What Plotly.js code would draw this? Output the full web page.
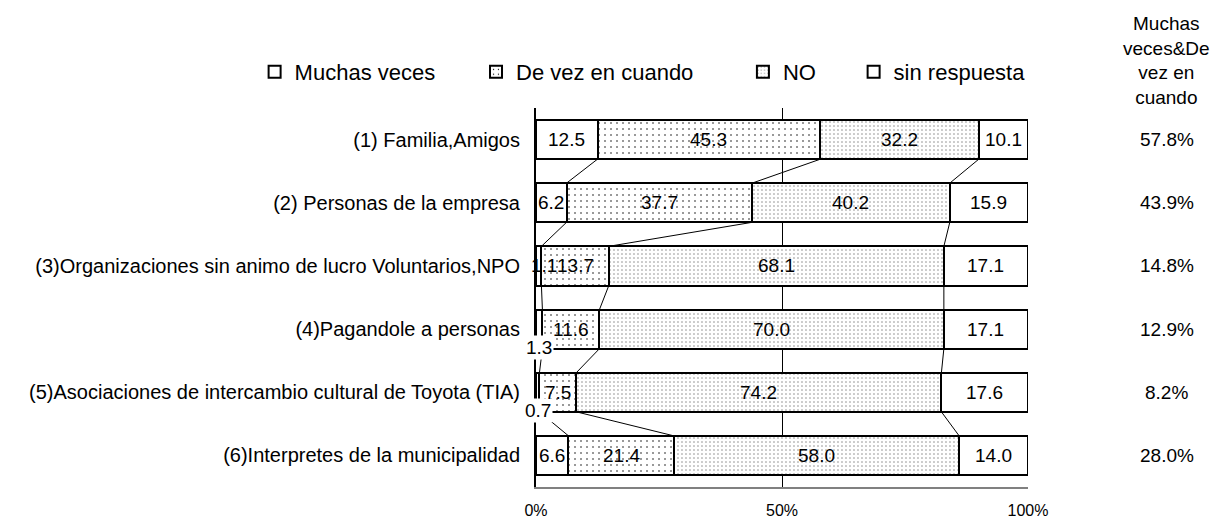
<!DOCTYPE html>
<html>
<head>
<meta charset="utf-8">
<script src="https://cdn.plot.ly/plotly-3.0.1.min.js"></script>
<style>
  html, body { margin: 0; padding: 0; background: #fff; }
  #chart { width: 1230px; height: 521px; }
</style>
</head>
<body>
<div id="chart"></div>
<script>
// categorías (de arriba hacia abajo)
const categories = [
    '(1) Familia,Amigos',
    '(2) Personas de la empresa',
    '(3)Organizaciones sin animo de lucro Voluntarios,NPO',
    '(4)Pagandole a personas',
    '(5)Asociaciones de intercambio cultural de Toyota (TIA)',
    '(6)Interpretes de la municipalidad'
];

const seriesNames = ['Muchas veces', 'De vez en cuando', 'NO', 'sin respuesta'];

// porcentajes
const muchasVeces = [12.5, 6.2, 1.1, 1.3, 0.7, 6.6];
const deVezEnCuando = [45.3, 37.7, 13.7, 11.6, 7.5, 21.4];
const noValues = [32.2, 40.2, 68.1, 70.0, 74.2, 58.0];
const sinRespuesta = [10.1, 15.9, 17.1, 17.1, 17.6, 14.0];

const xTicks = [0, 50, 100];
const xTickLabels = ['0%', '50%', '100%'];

const headerText = 'Muchas<br>veces&De<br>vez en<br>cuando';

const FONT = 'Liberation Sans, Arial, sans-serif';
const BAR_W = 0.62;

const allSeries = [muchasVeces, deVezEnCuando, noValues, sinRespuesta];
const rows = categories.map((_, i) => i);

const patterns = [
    null,
    { shape: '.', size: 6, solidity: 0.05, fgcolor: '#000', bgcolor: '#fff' },
    { shape: '.', size: 4, solidity: 0.12, fgcolor: '#888', bgcolor: '#fff' },
    null
];
const legendIds = ['legend', 'legend2', 'legend3', 'legend4'];

const traces = [];

allSeries.forEach((vals, s) => {
    const marker = { color: '#fff', line: { color: '#000', width: 2 } };
    if (patterns[s]) marker.pattern = patterns[s];
    traces.push({
        type: 'bar',
        orientation: 'h',
        name: seriesNames[s],
        x: vals,
        y: rows,
        width: BAR_W,
        marker: marker,
        legend: legendIds[s],
        hoverinfo: 'skip'
    });
});

// acumulados para las líneas de serie y las etiquetas
const cum = [];
rows.forEach(i => {
    let acc = 0;
    cum.push(allSeries.map(vals => { acc += vals[i]; return acc; }));
});

// líneas de serie entre barras
for (let k = 0; k < 3; k++) {
    const xs = [];
    const ys = [];
    for (let i = 0; i < rows.length - 1; i++) {
        xs.push(cum[i][k], cum[i + 1][k], null);
        ys.push(i + BAR_W / 2, i + 1 - BAR_W / 2, null);
    }
    traces.push({
        type: 'scatter',
        mode: 'lines',
        x: xs,
        y: ys,
        line: { color: '#000', width: 1 },
        showlegend: false,
        hoverinfo: 'skip'
    });
}

const annotations = [];

// etiquetas de datos
allSeries.forEach((vals, s) => {
    vals.forEach((v, i) => {
        const start = cum[i][s] - v;
        const ann = {
            x: start + v / 2,
            y: i,
            xref: 'x',
            yref: 'y',
            xanchor: 'center',
            text: v.toFixed(1),
            showarrow: false,
            font: { family: FONT, size: 19, color: '#000' }
        };
        if (s === 0 && v < 1.2) {
            ann.xshift = 5;
        }
        if (s === 0 && (i === 3 || i === 4)) {
            ann.yshift = -18;
            ann.xshift = 0;
            ann.bgcolor = '#fff';
        }
        annotations.push(ann);
    });
});

// columna derecha: Muchas veces + De vez en cuando
rows.forEach(i => {
    annotations.push({
        x: 1.2825,
        y: i,
        xref: 'paper',
        yref: 'y',
        xanchor: 'center',
        text: (muchasVeces[i] + deVezEnCuando[i]).toFixed(1) + '%',
        showarrow: false,
        font: { family: FONT, size: 19, color: '#000' }
    });
});

annotations.push({
    x: 1.2825,
    y: 1.125,
    xref: 'paper',
    yref: 'paper',
    xanchor: 'center',
    yanchor: 'middle',
    text: headerText,
    showarrow: false,
    align: 'center',
    font: { family: FONT, size: 19, color: '#000' }
});

const legendX = [0.207, 0.387, 0.604, 0.694];
const legendBase = {
    orientation: 'h',
    xref: 'container',
    yref: 'container',
    xanchor: 'left',
    yanchor: 'middle',
    y: 1 - 72 / 521,
    bgcolor: 'rgba(0,0,0,0)',
    font: { family: FONT, size: 22, color: '#000' },
    itemwidth: 30
};

const layout = {
    width: 1230,
    height: 521,
    margin: { l: 536, r: 202, t: 108, b: 34 },
    paper_bgcolor: '#fff',
    plot_bgcolor: '#fff',
    barmode: 'stack',
    hovermode: false,
    showlegend: true,
    font: { family: FONT, color: '#000' },
    xaxis: {
        range: [0, 100],
        tickvals: xTicks,
        ticktext: xTickLabels,
        ticks: '',
        showgrid: true,
        gridcolor: '#000',
        gridwidth: 1,
        zeroline: false,
        showline: true,
        linecolor: '#808080',
        linewidth: 2,
        ticklabelstandoff: 8,
        tickfont: { family: FONT, size: 16, color: '#000' },
        fixedrange: true
    },
    yaxis: {
        range: [rows.length - 0.5, -0.5],
        tickvals: rows,
        ticktext: categories,
        ticks: '',
        showgrid: false,
        zeroline: false,
        showline: true,
        linecolor: '#000',
        linewidth: 2,
        ticklabelstandoff: 10,
        tickfont: { family: FONT, size: 20, color: '#000' },
        fixedrange: true
    },
    annotations: annotations
};

legendIds.forEach((id, s) => {
    layout[id] = Object.assign({}, legendBase, { x: legendX[s] });
});

Plotly.newPlot('chart', traces, layout, { staticPlot: true });
</script>
</body>
</html>
